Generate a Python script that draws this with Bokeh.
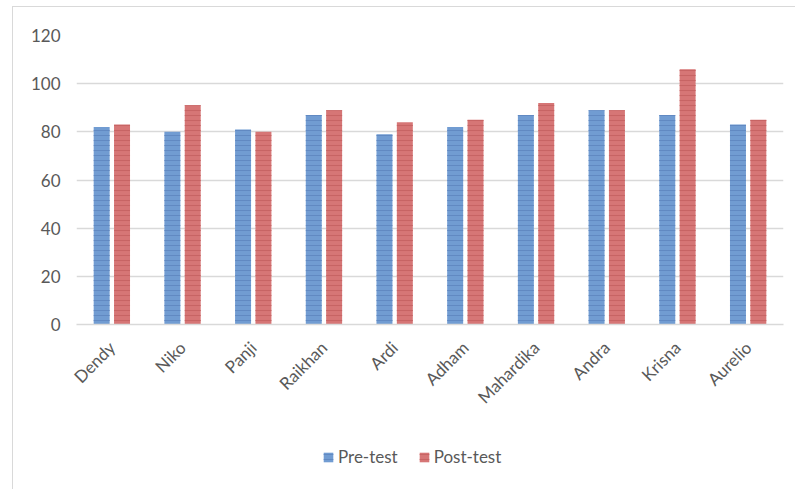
import math
from bokeh.plotting import figure
from bokeh.layouts import column
from bokeh.models import ColumnDataSource, FactorRange, Legend, LegendItem
from bokeh.transform import dodge
from bokeh.embed import file_html
from bokeh.resources import INLINE

names = ["Dendy", "Niko", "Panji", "Raikhan", "Ardi", "Adham", "Mahardika", "Andra", "Krisna", "Aurelio"]
pre_test = [82, 80, 81, 87, 79, 82, 87, 89, 87, 83]
post_test = [83, 91, 80, 89, 84, 85, 92, 89, 106, 85]
y_ticks = [0, 20, 40, 60, 80, 100, 120]
series_labels = ["Pre-test", "Post-test"]

src = ColumnDataSource(dict(names=names, pre=pre_test, post=post_test))

FONT = "Lato"
GRAY = "#595959"
PRE_STYLE = dict(fill_color="#719cd2", line_color=None, hatch_pattern="-",
                 hatch_color="#6189c2", hatch_scale=5, hatch_weight=1.1)
POST_STYLE = dict(fill_color="#d67676", line_color=None, hatch_pattern="-",
                  hatch_color="#c76464", hatch_scale=5, hatch_weight=1.1)

p = figure(x_range=FactorRange(*names, range_padding=0), y_range=(0, 120),
           width=782, height=430, output_backend="svg", toolbar_location=None,
           min_border_left=63, min_border_right=12, min_border_top=28, min_border_bottom=113)
p.outline_line_color = None

p.vbar(x=dodge("names", -0.144, range=p.x_range), top="pre", width=0.226, bottom=0,
       source=src, **PRE_STYLE)
p.vbar(x=dodge("names", 0.144, range=p.x_range), top="post", width=0.226, bottom=0,
       source=src, **POST_STYLE)

p.xgrid.grid_line_color = None
p.ygrid.grid_line_color = "#d9d9d9"
p.ygrid.grid_line_width = 1.3
p.yaxis.ticker = y_ticks

p.yaxis.axis_line_color = None
p.yaxis.major_tick_line_color = None
p.yaxis.minor_tick_line_color = None
p.yaxis.major_tick_out = 0
p.yaxis.major_label_standoff = 16
p.yaxis.major_label_text_font = FONT
p.yaxis.major_label_text_font_size = "17px"
p.yaxis.major_label_text_color = GRAY

p.xaxis.axis_line_color = "#d9d9d9"
p.xaxis.axis_line_width = 1.3
p.xaxis.major_tick_line_color = None
p.xaxis.minor_tick_line_color = None
p.xaxis.major_tick_out = 0
p.xaxis.major_label_orientation = math.pi / 4
p.xaxis.major_label_standoff = 20
p.xaxis.major_label_text_font = FONT
p.xaxis.major_label_text_font_size = "17px"
p.xaxis.major_label_text_color = GRAY

# legend strip below the chart (its renderers hold one hidden, zero-height bar off range)
leg = figure(width=782, height=52, x_range=(0, 1), y_range=(0, 1),
             output_backend="svg", toolbar_location=None,
             x_axis_type=None, y_axis_type=None,
             min_border_left=0, min_border_right=0, min_border_top=0, min_border_bottom=0)
leg.outline_line_color = None
leg.grid.grid_line_color = None
hidden = ColumnDataSource(dict(x=[-5], top=[0]))
lr_pre = leg.vbar(x="x", top="top", width=0.1, source=hidden, **PRE_STYLE)
lr_post = leg.vbar(x="x", top="top", width=0.1, source=hidden, **POST_STYLE)

legend = Legend(items=[LegendItem(label=series_labels[0], renderers=[lr_pre], index=0),
                       LegendItem(label=series_labels[1], renderers=[lr_post], index=0)],
                orientation="horizontal", location=(246, 22),
                padding=0, margin=0, spacing=20, glyph_width=12, glyph_height=12,
                label_standoff=4, label_text_font=FONT, label_text_font_size="17px",
                label_text_color=GRAY, border_line_color=None, background_fill_alpha=0)
leg.add_layout(legend, "center")

layout = column(p, leg, spacing=0, margin=(6, 0, 0, 12),
                styles={"border-left": "1px solid #d9d9d9", "border-top": "1px solid #d9d9d9"})

open("out.html", "w").write(file_html(layout, INLINE))
